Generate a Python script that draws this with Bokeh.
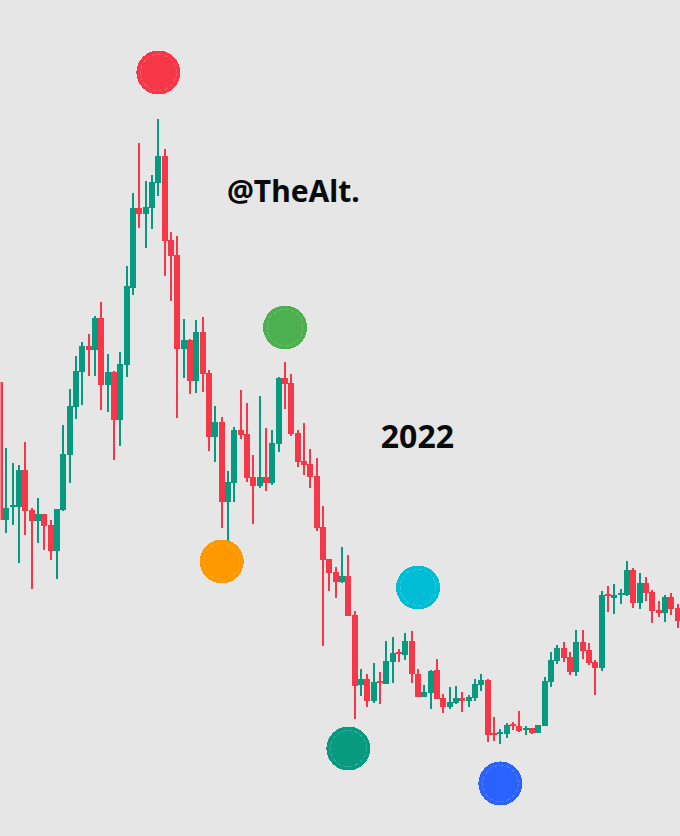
from bokeh.core.properties import value
from bokeh.embed import file_html
from bokeh.models import ColumnDataSource, Range1d
from bokeh.plotting import figure
from bokeh.resources import INLINE

# candles, price scale is arbitrary
opens = [454, 316, 329, 329, 366, 326, 315, 322, 311, 285, 326, 381, 429, 464, 490, 486, 518, 451,
         464, 416, 471, 548, 628, 622, 628, 653, 680, 596, 581, 487, 496, 455, 504, 463, 399, 414,
         334, 353, 406, 402, 359, 350, 359, 353, 392, 458, 453, 403, 375, 372, 360, 309, 277, 264,
         254, 260, 221, 151, 157, 135, 155, 152, 174, 184, 181, 195, 162, 139, 143, 166, 138, 129,
         133, 138, 135, 138, 151, 156, 103, 102, 102, 112, 110, 106, 108, 103, 110, 154, 175, 188,
         179, 164, 194, 186, 174, 168, 242, 238, 241, 241, 266, 233, 253, 244, 226, 223, 239, 228]
closes = [316, 328, 331, 366, 325, 315, 322, 310, 285, 327, 382, 430, 465, 490, 486, 518, 451, 464,
          416, 472, 550, 628, 622, 629, 654, 680, 595, 580, 487, 496, 455, 504, 462, 399, 414, 334,
          354, 406, 401, 358, 350, 359, 353, 393, 458, 452, 402, 374, 371, 359, 308, 276, 263, 254,
          260, 220, 150, 157, 135, 154, 153, 175, 183, 182, 195, 162, 139, 144, 165, 137, 129, 134,
          138, 135, 139, 152, 156, 101, 101, 104, 111, 110, 105, 108, 103, 111, 155, 176, 188, 178,
          164, 194, 185, 173, 168, 241, 240, 241, 243, 266, 233, 253, 243, 225, 223, 239, 227, 215]
highs = [454, 388, 373, 371, 394, 328, 338, 322, 316, 327, 411, 447, 480, 494, 502, 520, 534, 482,
         465, 484, 570, 643, 693, 655, 661, 717, 687, 604, 600, 517, 497, 516, 519, 466, 430, 419,
         365, 409, 446, 433, 381, 440, 408, 406, 459, 474, 462, 406, 413, 387, 378, 330, 277, 269,
         289, 281, 225, 167, 162, 173, 164, 195, 199, 187, 203, 205, 167, 151, 166, 177, 142, 149,
         150, 144, 141, 157, 162, 157, 119, 107, 113, 114, 125, 110, 108, 111, 159, 184, 191, 194,
         184, 206, 206, 193, 176, 245, 250, 252, 247, 275, 268, 263, 259, 246, 235, 241, 243, 232]
lows = [316, 303, 311, 273, 301, 247, 293, 286, 276, 257, 325, 353, 417, 431, 460, 460, 426, 424,
        376, 390, 459, 541, 608, 588, 607, 640, 560, 535, 418, 458, 442, 443, 444, 385, 374, 308,
        295, 334, 397, 354, 312, 348, 345, 351, 384, 427, 400, 369, 361, 348, 305, 190, 245, 238,
        253, 220, 117, 140, 129, 133, 132, 152, 153, 174, 176, 153, 139, 139, 127, 137, 123, 127,
        132, 124, 129, 135, 145, 94, 95, 92, 98, 106, 104, 101, 102, 103, 110, 149, 172, 174,
        161, 160, 177, 171, 141, 165, 224, 222, 232, 240, 228, 227, 235, 213, 219, 214, 221, 208]

# the six round markers sit on these candles
marker_candles = [25, 45, 35, 66, 55, 79]
marker_prices = [763, 508, 274, 248, 87, 52]
marker_colors = ["#F63748", "#4CAF50", "#FF9800", "#00BCD4", "#089981", "#2962FF"]

labels = ["@TheAlt.", "2022"]
label_candles = [46.3, 65.9]
label_prices = [645, 399]
label_sizes = ["30px", "32px"]

UP = "#089981"
DOWN = "#F63748"

candles = list(range(len(opens)))
colors = [UP if c >= o else DOWN for o, c in zip(opens, closes)]
source = ColumnDataSource(data=dict(x=candles, open=opens, close=closes, high=highs, low=lows, color=colors))

p = figure(
    width=680,
    height=836,
    x_range=Range1d(0.07, 107.44),
    y_range=Range1d(-1, 835),
    output_backend="svg",
    toolbar_location=None,
    min_border=0,
    background_fill_color="#E6E6E6",
    border_fill_color="#E6E6E6",
    outline_line_color=None,
)
p.xaxis.visible = False
p.yaxis.visible = False
p.grid.visible = False
# sit over the page margin, the picture runs edge to edge
p.styles = {
    "position": "fixed",
    "left": "0",
    "top": "0",
    "background-color": "#E6E6E6",
    "shape-rendering": "crispEdges",
}

p.segment("x", "high", "x", "low", source=source, color="color", line_width=2)
p.vbar("x", 0.95, "open", "close", source=source, fill_color="color", line_color=None)

p.scatter(marker_candles, marker_prices, size=44, fill_color=marker_colors, line_color=None)
p.scatter(marker_candles, marker_prices, size=36, fill_color=None,
          line_color="white", line_alpha=0.18, line_width=1, line_dash="4 2")

p.text(label_candles, label_prices, text=labels, text_align="center", text_baseline="alphabetic",
       text_font=value("Noto Sans"), text_font_style="bold", text_font_size=label_sizes, text_color="#0A0A0A")

open("out.html", "w").write(file_html(p, INLINE))
